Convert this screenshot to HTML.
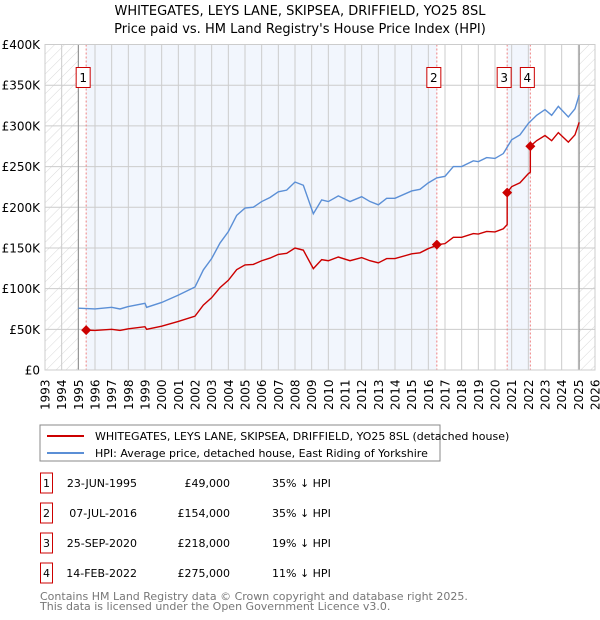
<!DOCTYPE html>
<html><head><meta charset="utf-8"><style>
body{margin:0;background:#fff;font-family:"DejaVu Sans","Liberation Sans",sans-serif;}
#wrap{position:relative;width:600px;height:620px;overflow:hidden}
svg text{font-family:"DejaVu Sans","Liberation Sans",sans-serif}
</style></head><body><div id="wrap">
<svg id="chart" width="600" height="620" xmlns="http://www.w3.org/2000/svg">
<defs><pattern id="hatch" width="7" height="7" patternUnits="userSpaceOnUse" patternTransform="rotate(45)"><line x1="0" y1="0" x2="0" y2="7" stroke="#c8c8c8" stroke-width="0.7"/></pattern></defs>
<text x="300" y="15" text-anchor="middle" font-size="13">WHITEGATES, LEYS LANE, SKIPSEA, DRIFFIELD, YO25 8SL</text>
<text x="300" y="33" text-anchor="middle" font-size="13">Price paid vs. HM Land Registry's House Price Index (HPI)</text>
<g id="plot"></g>
<rect x="40" y="425" width="400" height="36" fill="none" stroke="#888"/>
<line x1="47" y1="436" x2="84" y2="436" stroke="#cc0000" stroke-width="2"/>
<text x="95" y="440" font-size="11">WHITEGATES, LEYS LANE, SKIPSEA, DRIFFIELD, YO25 8SL (detached house)</text>
<line x1="47" y1="453" x2="84" y2="453" stroke="#5b8fd6" stroke-width="2"/>
<text x="95" y="457" font-size="11">HPI: Average price, detached house, East Riding of Yorkshire</text>
<g id="table" font-size="11"></g>
<text x="40" y="600" font-size="11" fill="#777">Contains HM Land Registry data © Crown copyright and database right 2025.</text>
<text x="40" y="610" font-size="11" fill="#777">This data is licensed under the Open Government Licence v3.0.</text>
</svg></div>
<script>
const hpiYears=[1995.0,1996.0,1997.0,1997.5,1998.0,1999.0,1999.1,2000.0,2001.0,2002.0,2002.5,2003.0,2003.5,2004.0,2004.5,2005.0,2005.5,2006.0,2006.5,2007.0,2007.5,2008.0,2008.5,2009.1,2009.6,2010.0,2010.6,2011.3,2012.0,2012.5,2013.0,2013.5,2014.0,2015.0,2015.5,2016.0,2016.5,2017.0,2017.5,2018.0,2018.7,2019.0,2019.5,2020.0,2020.5,2021.0,2021.5,2022.0,2022.5,2023.0,2023.4,2023.8,2024.4,2024.8,2025.05];
const hpiValues=[76,75,77,75,78,82,77,83,92,102,123,137,156,170,190,199,200,207,212,219,221,231,227,192,209,207,214,207,213,207,203,211,211,220,222,230,236,238,250,250,257,256,261,260,266,283,289,303,313,320,313,324,311,321,338];
const saleYears=[1995.47,2016.51,2020.73,2022.12];
const salePrices=[49,154,218,275];
const saleLabels=["1","2","3","4"];
const saleDates=["23-JUN-1995","07-JUL-2016","25-SEP-2020","14-FEB-2022"];
const salePriceText=["£49,000","£154,000","£218,000","£275,000"];
const saleDiffs=["35% ↓ HPI","35% ↓ HPI","19% ↓ HPI","11% ↓ HPI"];
const yTicks=[0,50,100,150,200,250,300,350,400];
const yTickLabels=["£0","£50K","£100K","£150K","£200K","£250K","£300K","£350K","£400K"];
const xStart=1993,xEnd=2026;

const L=45,R=595,T=44.5,B=370;
const X=y=>L+(y-xStart)/(xEnd-xStart)*(R-L);
const Y=v=>B-v/400*(B-T);
const NS="http://www.w3.org/2000/svg";
function mk(tag,attrs,parent){const e=document.createElementNS(NS,tag);for(const k in attrs)e.setAttribute(k,attrs[k]);parent.appendChild(e);return e;}
function hpiAt(t){if(t<=hpiYears[0])return hpiValues[0];for(let i=1;i<hpiYears.length;i++){if(t<=hpiYears[i]){const f=(t-hpiYears[i-1])/(hpiYears[i]-hpiYears[i-1]);return hpiValues[i-1]+f*(hpiValues[i]-hpiValues[i-1]);}}return hpiValues[hpiValues.length-1];}
const g=document.getElementById('plot');
let e;
e=mk('rect',{x:L,y:T,width:R-L,height:B-T,fill:'#fff'},g);


const bands=[[saleYears[0],saleYears[1]],[saleYears[2],saleYears[3]]];
bands.forEach(b=>{e=mk('rect',{x:X(b[0]),y:T,width:X(b[1])-X(b[0]),height:B-T,fill:'#f2f6fd'},g);

});
e=mk('rect',{x:L,y:T,width:X(1995)-L,height:B-T,fill:'url(#hatch)'},g);


e=mk('rect',{x:X(2025.05),y:T,width:R-X(2025.05),height:B-T,fill:'url(#hatch)'},g);


for(let yr=xStart;yr<=xEnd;yr++){e=mk('line',{x1:X(yr),x2:X(yr),y1:T,y2:B,stroke:'#ccc','stroke-width':1},g);


e=mk('text',{transform:`translate(${X(yr)+4.5},410) rotate(-90)`,'font-size':12},g);e.textContent=yr;

}
yTicks.forEach((v,i)=>{e=mk('line',{x1:L,x2:R,y1:Y(v),y2:Y(v),stroke:'#ccc','stroke-width':1},g);


e=mk('text',{x:40,y:Y(v)+4.5,'text-anchor':'end','font-size':12},g);e.textContent=yTickLabels[i];

});
[1995,2025.05].forEach(t=>{e=mk('line',{x1:X(t),x2:X(t),y1:T,y2:B,stroke:'#888','stroke-width':1},g);

});
saleYears.forEach((s,i)=>{e=mk('line',{x1:X(s),x2:X(s),y1:T,y2:B,stroke:'#f08080','stroke-width':1,'stroke-dasharray':'2,2'},g);


e=mk('rect',{x:X(s)-10,y:67.5,width:14,height:20,fill:'#fff',stroke:'#cc0000'},g);


e=mk('text',{x:X(s)-3,y:82,'text-anchor':'middle','font-size':12},g);e.textContent=saleLabels[i];

});
e=mk('polyline',{points:hpiYears.map((t,i)=>X(t)+','+Y(hpiValues[i])).join(' '),fill:'none',stroke:'#5b8fd6','stroke-width':1.4},g);


const pts=[];
for(let k=0;k<saleYears.length;k++){const ratio=salePrices[k]/hpiAt(saleYears[k]);const end=k+1<saleYears.length?saleYears[k+1]:hpiYears[hpiYears.length-1];
pts.push([saleYears[k],salePrices[k]]);
hpiYears.forEach((t,i)=>{if(t>saleYears[k]&&t<end)pts.push([t,hpiValues[i]*ratio]);});
pts.push([end,hpiAt(end)*ratio]);}
e=mk('polyline',{points:pts.map(p=>X(p[0])+','+Y(p[1])).join(' '),fill:'none',stroke:'#cc0000','stroke-width':1.4},g);


saleYears.forEach((s,i)=>{const cx=X(s),cy=Y(salePrices[i]);
e=mk('polygon',{points:`${cx},${cy-5} ${cx+5},${cy} ${cx},${cy+5} ${cx-5},${cy}`,fill:'#cc0000'},g);

});
e=mk('rect',{x:L,y:T,width:R-L,height:B-T,fill:'none',stroke:'#ccc'},g);


const tb=document.getElementById('table');
saleYears.forEach((s,i)=>{const cy=483+i*30;
e=mk('rect',{x:40.5,y:cy-10,width:12,height:20,fill:'none',stroke:'#cc0000'},tb);


e=mk('text',{x:46.5,y:cy+4,'text-anchor':'middle'},tb);e.textContent=saleLabels[i];


e=mk('text',{x:137,y:cy+4,'text-anchor':'end'},tb);e.textContent=saleDates[i];


e=mk('text',{x:230,y:cy+4,'text-anchor':'end'},tb);e.textContent=salePriceText[i];


e=mk('text',{x:272,y:cy+4},tb);e.textContent=saleDiffs[i];

});
</script></body></html>
